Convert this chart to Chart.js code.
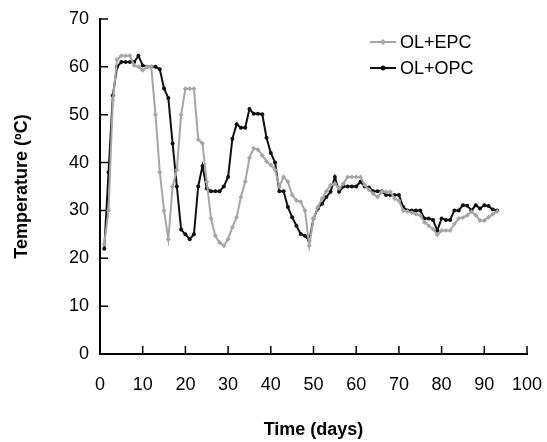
<!DOCTYPE html>
<html>
<head>
<meta charset="utf-8">
<script src="https://cdn.jsdelivr.net/npm/chart.js@4.4.1/dist/chart.umd.min.js"></script>
<style>
  body { margin: 0; background: #fff; }
  #wrap { width: 547px; height: 442px; }
</style>
</head>
<body>
<div id="wrap"><canvas id="tempChart" width="547" height="442"></canvas></div>
<script>
// sampling days
const days = [1, 2, 3, 4, 5, 6, 7, 8, 9, 10, 11, 12, 13, 14, 15, 16, 17, 18, 19, 20,
    21, 22, 23, 24, 25, 26, 27, 28, 29, 30, 31, 32, 33, 34, 35, 36, 37, 38, 39, 40,
    41, 42, 43, 44, 45, 46, 47, 48, 49, 50, 51, 52, 53, 54, 55, 56, 57, 58, 59, 60,
    61, 62, 63, 64, 65, 66, 67, 68, 69, 70, 71, 72, 73, 74, 75, 76, 77, 78, 79, 80,
    81, 82, 83, 84, 85, 86, 87, 88, 89, 90, 91, 92, 93];

// OL+EPC (grey)
const tempEPC = [23, 30, 53, 61.5, 62.3, 62.3, 62.3, 60.3, 60, 59.3,
    60, 60, 50, 38, 30, 24, 35, 38.5, 50, 55.4,
    55.4, 55.4, 44.8, 44, 36, 28.3, 24.7, 23.3, 22.6, 24,
    26.5, 28.6, 32.8, 36, 41, 43, 42.7, 41.5, 40.2, 39.5,
    38.5, 35, 37, 36, 33.2, 32.1, 31.8, 30, 22.6, 28.3,
    30.7, 32.5, 34, 35.3, 35.6, 34.6, 35.6, 37, 37, 37,
    37, 35.3, 34.3, 33.5, 32.8, 33.9, 33.9, 33.9, 32.5, 32,
    30, 29.8, 29.5, 29.2, 29, 27.5, 26.8, 26.1, 24.9, 25.8,
    25.8, 25.8, 27.2, 28.3, 28.5, 29, 29.7, 29, 27.9, 27.9,
    28.6, 29.2, 29.8];

// OL+OPC (black)
const tempOPC = [22, 38, 54, 60, 61, 61, 61, 61, 62.3, 60.3,
    60, 60, 60, 59.5, 55.5, 53.5, 44, 35, 26, 25,
    24, 25, 35, 39.3, 34.6, 34, 34, 34, 35, 37,
    45, 48, 47.3, 47.3, 51.2, 50.2, 50.2, 50.1, 45.2, 42,
    40, 34, 34, 30.7, 28.6, 26.8, 25.1, 24.7, 23.7, 28.3,
    30.4, 31.4, 32.8, 33.9, 37, 33.9, 35, 35, 35, 35,
    36, 35, 34.8, 34, 34, 34, 33.2, 33.2, 33.2, 33.2,
    30.7, 30, 30, 30, 30, 28.3, 28.3, 28, 25.8, 28.3,
    28, 28, 30, 30, 31.1, 31, 30, 31.1, 30.4, 31.1,
    30.9, 30.2, 30];

const xTicks = [0, 10, 20, 30, 40, 50, 60, 70, 80, 90, 100];
const yTicks = [0, 10, 20, 30, 40, 50, 60, 70];

const GREY = '#a6a6a6';
const BLACK = '#111111';

Chart.defaults.font.family = "'Liberation Sans', Arial, sans-serif";
Chart.defaults.font.size = 18;
Chart.defaults.color = '#000';

function toPoints(vals) {
    return days.map((d, i) => ({ x: d, y: vals[i] }));
}

// tick marks pointing into the plot
const innerTicks = {
    id: 'innerTicks',
    beforeDatasetsDraw(chart) {
        const ctx = chart.ctx, area = chart.chartArea;
        const xs = chart.scales.x, ys = chart.scales.y;
        ctx.save();
        ctx.strokeStyle = '#000';
        ctx.lineWidth = 1.5;
        ctx.beginPath();
        xs.ticks.forEach(t => {
            const px = xs.getPixelForValue(t.value);
            ctx.moveTo(px, area.bottom);
            ctx.lineTo(px, area.bottom - 8);
        });
        ys.ticks.forEach(t => {
            const py = ys.getPixelForValue(t.value);
            ctx.moveTo(area.left, py);
            ctx.lineTo(area.left + 8, py);
        });
        ctx.stroke();
        ctx.restore();
    }
};

// legend box in the top right corner of the plot
const insideLegend = {
    id: 'insideLegend',
    afterDraw(chart) {
        const ctx = chart.ctx;
        const x0 = 370, x1 = 396;
        ctx.save();
        ctx.font = "18px 'Liberation Sans', Arial, sans-serif";
        ctx.textBaseline = 'middle';
        ctx.fillStyle = '#000';
        chart.data.datasets.forEach((ds, i) => {
            const y = 42 + i * 26;
            ctx.strokeStyle = ds.borderColor;
            ctx.lineWidth = 2;
            ctx.beginPath();
            ctx.moveTo(x0, y);
            ctx.lineTo(x1, y);
            ctx.stroke();
            ctx.fillStyle = ds.borderColor;
            ctx.beginPath();
            if (ds.pointStyle === 'rectRot') {
                ctx.moveTo((x0 + x1) / 2, y - 3);
                ctx.lineTo((x0 + x1) / 2 + 3, y);
                ctx.lineTo((x0 + x1) / 2, y + 3);
                ctx.lineTo((x0 + x1) / 2 - 3, y);
            } else {
                ctx.arc((x0 + x1) / 2, y, 2.5, 0, Math.PI * 2);
            }
            ctx.fill();
            ctx.fillStyle = '#000';
            ctx.fillText(ds.label, x1 + 4, y + 1);
        });
        ctx.restore();
    }
};

new Chart(document.getElementById('tempChart'), {
    type: 'line',
    data: {
        datasets: [{
            label: 'OL+EPC',
            data: toPoints(tempEPC),
            borderColor: GREY,
            backgroundColor: GREY,
            borderWidth: 2,
            pointStyle: 'rectRot',
            pointRadius: 2.5,
            pointBorderWidth: 0,
            tension: 0
        }, {
            label: 'OL+OPC',
            data: toPoints(tempOPC),
            borderColor: BLACK,
            backgroundColor: BLACK,
            borderWidth: 2,
            pointStyle: 'circle',
            pointRadius: 2,
            pointBorderWidth: 0,
            tension: 0
        }]
    },
    options: {
        responsive: false,
        animation: false,
        layout: {
            padding: { top: 19, right: 20, left: 0, bottom: 0 }
        },
        scales: {
            x: {
                type: 'linear',
                min: 0,
                max: 100,
                afterFit: s => { s.height = 88; },
                afterBuildTicks: s => { s.ticks = xTicks.map(v => ({ value: v })); },
                // invisible tick length only pushes labels down
                grid: { display: false, drawTicks: true, tickLength: 20 },
                border: { display: true, color: '#000', width: 2 },
                ticks: { padding: 0, maxRotation: 0 },
                title: {
                    display: true,
                    text: 'Time (days)',
                    font: { size: 18, weight: 'bold' },
                    padding: { top: 0, bottom: 1 }
                }
            },
            y: {
                min: 0,
                max: 70,
                afterFit: s => { s.width = 100; },
                afterBuildTicks: s => { s.ticks = yTicks.map(v => ({ value: v })); },
                grid: { display: false, drawTicks: true, tickLength: 11 },
                border: { display: true, color: '#000', width: 2 },
                ticks: { padding: 0 },
                title: {
                    display: true,
                    text: 'Temperature (ºC)',
                    font: { size: 18, weight: 'bold' },
                    padding: { top: 11, bottom: 0 }
                }
            }
        },
        plugins: {
            legend: { display: false },
            tooltip: { enabled: false }
        }
    },
    plugins: [innerTicks, insideLegend]
});
</script>
</body>
</html>
